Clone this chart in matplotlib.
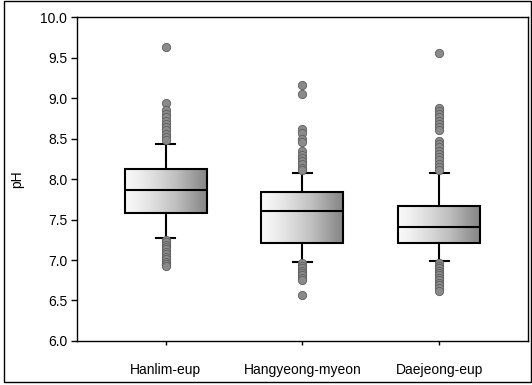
import numpy as np
import matplotlib.pyplot as plt
from matplotlib.patches import Rectangle

plt.rcParams['font.family'] = ['Liberation Sans', 'DejaVu Sans']

sites = ["Hanlim-eup", "Hangyeong-myeon", "Daejeong-eup"]

# box summaries (pH)
q1 = [7.58, 7.21, 7.21]
med = [7.86, 7.61, 7.41]
q3 = [8.12, 7.84, 7.67]
wlo = [7.27, 6.98, 6.99]
whi = [8.43, 8.08, 8.07]

# outlying samples
out_hanlim = [9.63, 8.94, 8.85, 8.80, 8.76, 8.72, 8.68, 8.64, 8.60, 8.56, 8.52, 8.48,
              7.25, 7.22, 7.19, 7.16, 7.13, 7.10, 7.07, 7.04, 7.01, 6.98, 6.95, 6.93]
out_hangyeong = [9.16, 9.05, 8.62, 8.57, 8.50, 8.46, 8.34, 8.30, 8.26, 8.22, 8.18, 8.14, 8.11,
                 6.96, 6.93, 6.90, 6.87, 6.84, 6.81, 6.78, 6.75, 6.57]
out_daejeong = [9.55, 8.88, 8.84, 8.80, 8.76, 8.72, 8.68, 8.64, 8.60,
                8.47, 8.43, 8.39, 8.35, 8.31, 8.27, 8.23, 8.19, 8.15, 8.11,
                6.96, 6.93, 6.90, 6.87, 6.84, 6.81, 6.78, 6.75, 6.72, 6.69, 6.66, 6.62]
outliers = [out_hanlim, out_hangyeong, out_daejeong]

yticks = [6.0, 6.5, 7.0, 7.5, 8.0, 8.5, 9.0, 9.5, 10.0]

fig = plt.figure(figsize=(5.32, 3.85), dpi=100)
ax = fig.add_axes([0.1447, 0.1143, 0.8478, 0.8415])

stats = []
for i in range(3):
    stats.append(dict(med=med[i], q1=q1[i], q3=q3[i], whislo=wlo[i], whishi=whi[i],
                      fliers=outliers[i], label=sites[i]))

pos = [1, 2, 3]
width = 0.6
bp = ax.bxp(stats, positions=pos, widths=width, patch_artist=True,
            boxprops=dict(facecolor='none', edgecolor='black', linewidth=1.5),
            medianprops=dict(color='black', linewidth=1.5),
            whiskerprops=dict(color='black', linewidth=1.5),
            capprops=dict(color='black', linewidth=1.5),
            capwidths=0.14,
            flierprops=dict(marker='o', markersize=6, markerfacecolor='#8a8a8a',
                            markeredgecolor='#5e5e5e', markeredgewidth=0.6))

# horizontal light-to-dark fill inside each box
grad = np.linspace(0, 1, 256).reshape(1, -1)
for i, box in enumerate(bp['boxes']):
    im = ax.imshow(grad, cmap='Greys', vmin=-0.1, vmax=1.85, aspect='auto',
                   extent=[pos[i] - width / 2, pos[i] + width / 2, q1[i], q3[i]],
                   interpolation='bilinear', zorder=1.5)
    im.set_clip_path(box)
    box.set_zorder(2)

ax.set_xlim(0.35, 3.65)
ax.set_ylim(6.0, 10.0)
ax.set_yticks(yticks)
ax.set_yticklabels([f"{t:.1f}" for t in yticks])
ax.set_xticks(pos)
ax.set_xticklabels(sites)
ax.tick_params(axis='y', direction='out', length=4, width=1, labelsize=10, pad=3)
ax.tick_params(axis='x', direction='out', length=3, width=1, labelsize=10, pad=13)
ax.set_ylabel("pH", fontsize=10, labelpad=12)
for s in ax.spines.values():
    s.set_linewidth(1.0)

# outer frame around the whole figure
fig.patches.append(Rectangle((0.008, 0.008), 0.99, 0.99, transform=fig.transFigure,
                             fill=False, edgecolor='black', linewidth=1.0))

fig.savefig("out.png", dpi=100)
